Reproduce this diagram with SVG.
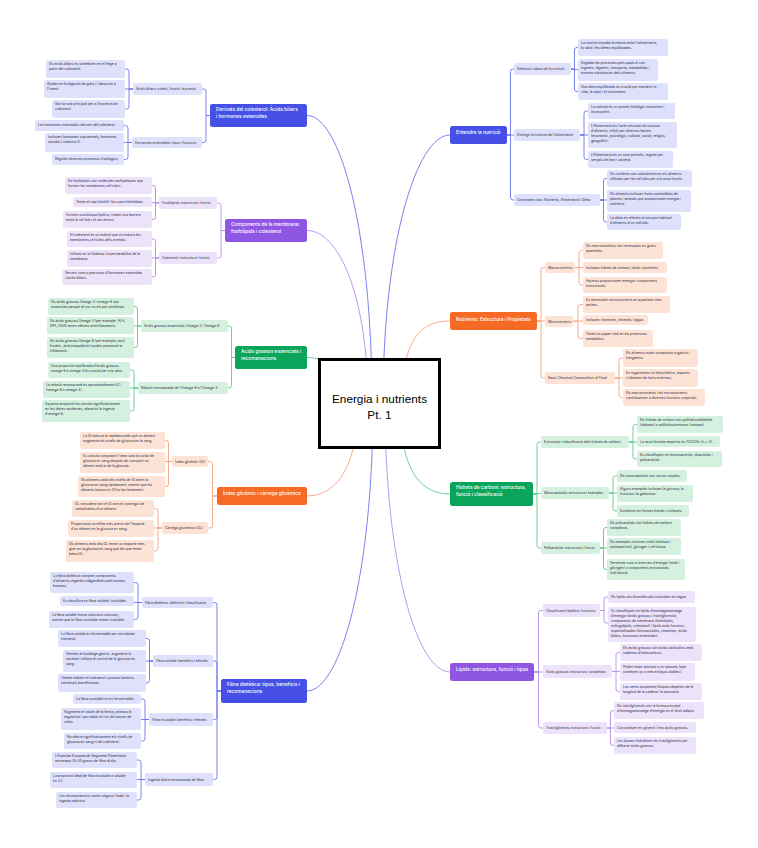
<svg xmlns="http://www.w3.org/2000/svg" width="758" height="848" viewBox="0 0 758 848">
<style>
.t{font-family:Inter,"Liberation Sans",sans-serif;font-size:3.4px;fill:#2a2a3a}
.s{font-family:Inter,"Liberation Sans",sans-serif;font-size:3.4px;fill:#2a2a3a}
.m{font-family:Inter,"Liberation Sans",sans-serif;font-size:4.8px;fill:#ffffff;font-weight:500}
.c{font-family:"Liberation Sans",Arial,sans-serif;font-size:11.8px;fill:#000;text-anchor:middle}
.lb{fill:#dfe0fb}.lp{fill:#ece3fb}.lg{fill:#d4f1e0}.lo{fill:#fde3d6}
.mb{fill:#4650e6}.mp{fill:#8e56e3}.mg{fill:#0aa55a}.mo{fill:#f56a24}
.cb,.cp,.cg,.co{fill:none;stroke-width:0.9}
.cb{stroke:#6c74ee}.cp{stroke:#b48cf0}.cg{stroke:#5ccb8f}.co{stroke:#f7a27c}
</style>
<rect width="758" height="848" fill="#ffffff"/>
<g id="connectors">
<path class="cb" d="M307 115.5C340 115.5 372 230 372 403"/>
<path class="cp" d="M307 230.5C340 230.5 368 300 368 403"/>
<path class="cg" d="M307 357.5C314 357.5 318 359 330 362"/>
<path class="co" d="M307 496C340 496 358 460 358 403"/>
<path class="cb" d="M307 691C340 691 373 576 373 403"/>
<path class="cb" d="M450 135C417 135 383 242 383 403"/>
<path class="co" d="M450 321C420 321 402 340 402 403"/>
<path class="cg" d="M450 494C420 494 400 470 400 403"/>
<path class="cp" d="M450 672C417 672 385 564 385 403"/>
<!-- main1 -->
<path class="cb" d="M210 115.5H206V91.5Q206 89 203.5 89H202"/>
<path class="cb" d="M210 115.5H206V140Q206 142.5 203.5 142.5H202"/>
<path class="cb" d="M133 89H129V71.5Q129 69 126.5 69H125"/>
<path class="cb" d="M133 89H125"/>
<path class="cb" d="M133 89H129V106.5Q129 109 126.5 109H125"/>
<path class="cb" d="M132 142.5H128V128Q128 125.5 125.5 125.5H124"/>
<path class="cb" d="M132 142.5H124"/>
<path class="cb" d="M132 142.5H128V157Q128 159.5 125.5 159.5H124"/>
<!-- main2 -->
<path class="cp" d="M225 230.5H221V205.5Q221 203 218.5 203H217"/>
<path class="cp" d="M225 230.5H221V255.5Q221 258 218.5 258H217"/>
<path class="cp" d="M159 203H155.5V188Q155.5 185.5 153 185.5H152"/>
<path class="cp" d="M159 202.5H152"/>
<path class="cp" d="M159 203H155.5V217Q155.5 219.5 153 219.5H152"/>
<path class="cp" d="M159 258H155.5V241.5Q155.5 239 153 239H152"/>
<path class="cp" d="M159 258H152"/>
<path class="cp" d="M159 258H155.5V274.5Q155.5 277 153 277H152"/>
<!-- main3 -->
<path class="cg" d="M235 357.5H231.5V328.5Q231.5 326 229 326H228"/>
<path class="cg" d="M235 357.5H231.5V385.5Q231.5 388 229 388H228"/>
<path class="cg" d="M141 326H137.5V309Q137.5 306.5 135 306.5H134"/>
<path class="cg" d="M141 326H134"/>
<path class="cg" d="M141 326H137.5V345Q137.5 347.5 135 347.5H134"/>
<path class="cg" d="M138 388H134V372.5Q134 370 131.5 370H130"/>
<path class="cg" d="M138 388H130"/>
<path class="cg" d="M138 388H134V408.5Q134 411 131.5 411H130"/>
<!-- main4 -->
<path class="co" d="M217 496H212.5V464Q212.5 461.5 210 461.5H208"/>
<path class="co" d="M217 496H212.5V525.5Q212.5 528 210 528H208"/>
<path class="co" d="M172 461.5H168.5V443Q168.5 440.5 166 440.5H165"/>
<path class="co" d="M172 461.5H165"/>
<path class="co" d="M172 461.5H168.5V484Q168.5 486.5 166 486.5H165"/>
<path class="co" d="M162 528H158V511Q158 508.5 155.5 508.5H154"/>
<path class="co" d="M162 528H154"/>
<path class="co" d="M162 528H158V548.5Q158 551 155.5 551H154"/>
<!-- main5 -->
<path class="cb" d="M221 691H217V605Q217 602.5 214.5 602.5H213"/>
<path class="cb" d="M221 691H217V663.5Q217 661 214.5 661H213"/>
<path class="cb" d="M221 691H217V717Q217 719.5 214.5 719.5H213"/>
<path class="cb" d="M221 691H217V777Q217 779.5 214.5 779.5H213"/>
<path class="cb" d="M142 602.5H138V585Q138 582.5 135.5 582.5H134"/>
<path class="cb" d="M142 602.5H134"/>
<path class="cb" d="M142 602.5H138V617Q138 619.5 135.5 619.5H134"/>
<path class="cb" d="M153 661H149.5V641Q149.5 638.5 147 638.5H146"/>
<path class="cb" d="M153 661H146"/>
<path class="cb" d="M153 661H149.5V680.5Q149.5 683 147 683H146"/>
<path class="cb" d="M149 719.5H145V701.5Q145 699 142.5 699H141"/>
<path class="cb" d="M149 719.5H141"/>
<path class="cb" d="M149 719.5H145V738.5Q145 741 142.5 741H141"/>
<path class="cb" d="M145 779.5H141V762.5Q141 760 138.5 760H137"/>
<path class="cb" d="M145 779.5H137"/>
<path class="cb" d="M145 779.5H141V797.5Q141 800 138.5 800H137"/>
<!-- main6 -->
<path class="cb" d="M507 135H510.5V71.5Q510.5 69 513 69H514"/>
<path class="cb" d="M507 135H514"/>
<path class="cb" d="M507 135H510.5V197.5Q510.5 200 513 200H514"/>
<path class="cb" d="M571 69H574.5V50Q574.5 47.5 577 47.5H578"/>
<path class="cb" d="M571 69.5H578"/>
<path class="cb" d="M571 69H574.5V89Q574.5 91.5 577 91.5H578"/>
<path class="cb" d="M580 135H584V113.5Q584 111 586.5 111H588"/>
<path class="cb" d="M580 135H588"/>
<path class="cb" d="M580 135H584V157Q584 159.5 586.5 159.5H588"/>
<path class="cb" d="M600 200H603.5V181Q603.5 178.5 606 178.5H607"/>
<path class="cb" d="M600 200H607"/>
<path class="cb" d="M600 200H603.5V219.5Q603.5 222 606 222H607"/>
<!-- main7 -->
<path class="co" d="M537 321H541V270Q541 267.5 543.5 267.5H545"/>
<path class="co" d="M537 321H545"/>
<path class="co" d="M537 321H541V375.5Q541 378 543.5 378H545"/>
<path class="co" d="M575 267.5H579V253Q579 250.5 581.5 250.5H583"/>
<path class="co" d="M575 267.5H583"/>
<path class="co" d="M575 267.5H579V282.5Q579 285 581.5 285H583"/>
<path class="co" d="M573 321.5H578V307Q578 304.5 580.5 304.5H583"/>
<path class="co" d="M573 321H583"/>
<path class="co" d="M573 321.5H578V336Q578 338.5 580.5 338.5H583"/>
<path class="co" d="M615 378H619V360.5Q619 358 621.5 358H623"/>
<path class="co" d="M615 378H623"/>
<path class="co" d="M615 378H619V395Q619 397.5 621.5 397.5H623"/>
<!-- main8 -->
<path class="cg" d="M533 494H537V444.5Q537 442 539.5 442H541"/>
<path class="cg" d="M533 493.5H541"/>
<path class="cg" d="M533 494H537V545.5Q537 548 539.5 548H541"/>
<path class="cg" d="M629 442H633V427Q633 424.5 635.5 424.5H637"/>
<path class="cg" d="M629 442H637"/>
<path class="cg" d="M629 442H633V456.5Q633 459 635.5 459H637"/>
<path class="cg" d="M609 493H613V478.5Q613 476 615.5 476H617"/>
<path class="cg" d="M609 493H617"/>
<path class="cg" d="M609 493H613V508.5Q613 511 615.5 511H617"/>
<path class="cg" d="M600 548H603.5V530Q603.5 527.5 606 527.5H607"/>
<path class="cg" d="M600 548H607"/>
<path class="cg" d="M600 548H603.5V567Q603.5 569.5 606 569.5H607"/>
<!-- main9 -->
<path class="cp" d="M534 672H538.5V613Q538.5 610.5 541 610.5H543"/>
<path class="cp" d="M534 672H543"/>
<path class="cp" d="M534 672H538.5V725.5Q538.5 728 541 728H543"/>
<path class="cp" d="M600 610.5H604V599.5Q604 597 606.5 597H608"/>
<path class="cp" d="M600 610.5H604V620.5Q604 623 606.5 623H608"/>
<path class="cp" d="M612 671.5H616V655Q616 652.5 618.5 652.5H620"/>
<path class="cp" d="M612 671.5H620"/>
<path class="cp" d="M612 671.5H616V689Q616 691.5 618.5 691.5H620"/>
<path class="cp" d="M607 728H610.5V713Q610.5 710.5 613 710.5H614"/>
<path class="cp" d="M607 728H614"/>
<path class="cp" d="M607 728H610.5V743Q610.5 745.5 613 745.5H614"/>
</g>

<g id="center">
<rect x="319.5" y="359.5" width="120" height="88" fill="#ffffff" stroke="#000" stroke-width="3"/>
<text class="c" x="379.5" y="403">Energia i nutrients</text>
<text class="c" x="379.5" y="419">Pt. 1</text>
</g>

<!-- MAIN 1 -->
<g id="n1">
<rect class="mb" x="210" y="104" width="97" height="23" rx="2.5"/>
<text class="m" x="216" y="111.3">Derivats del colesterol: Àcids biliars<tspan x="216" dy="6.7">i hormones esteroides</tspan></text>
</g>
<g id="n1a"><rect class="lb" x="133" y="83" width="69" height="12" rx="2"/><text class="s" x="136" y="90.2">Àcids biliars: síntesi, funció i excreció</text></g>
<g id="n1b"><rect class="lb" x="132" y="137" width="70" height="11" rx="2"/><text class="s" x="135" y="143.7">Hormones esteroidals: tipus i funcions</text></g>
<g id="n1a1"><rect class="lb" x="46" y="60" width="79" height="18" rx="2"/><text class="t" x="49" y="65.2">Els àcids biliars es sintetitzen en el fetge a<tspan x="49" dy="5">partir del colesterol.</tspan></text></g>
<g id="n1a2"><rect class="lb" x="44" y="80" width="81" height="18" rx="2"/><text class="t" x="47" y="85.2">Ajuden en la digestió de greix i l'absorció a<tspan x="47" dy="5">l'intestí.</tspan></text></g>
<g id="n1a3"><rect class="lb" x="52" y="100" width="73" height="18" rx="2"/><text class="t" x="55" y="105.2">Són la ruta principal per a l'excreció de<tspan x="55" dy="5">colesterol.</tspan></text></g>
<g id="n1b1"><rect class="lb" x="35" y="120" width="89" height="11" rx="2"/><text class="t" x="38" y="126">Les hormones esteroidals deriven del colesterol.</text></g>
<g id="n1b2"><rect class="lb" x="45" y="133" width="79" height="19" rx="2"/><text class="t" x="48" y="138.2">Inclouen hormones suprarenals, hormones<tspan x="48" dy="5">sexuals i vitamina D.</tspan></text></g>
<g id="n1b3"><rect class="lb" x="52" y="154" width="72" height="11" rx="2"/><text class="t" x="55" y="160">Regulen diversos processos fisiològics.</text></g>

<!-- MAIN 2 -->
<g id="n2">
<rect class="mp" x="225" y="219" width="82" height="23" rx="2.5"/>
<text class="m" x="231" y="226.3">Components de la membrana:<tspan x="231" dy="6.7">fosfolípids i colesterol</tspan></text>
</g>
<g id="n2a"><rect class="lp" x="159" y="197" width="58" height="12" rx="2"/><text class="s" x="162" y="204.2">Fosfolípids: estructura i funció</text></g>
<g id="n2b"><rect class="lp" x="159" y="252" width="58" height="12" rx="2"/><text class="s" x="162" y="259.2">Colesterol: estructura i funció</text></g>
<g id="n2a1"><rect class="lp" x="65" y="177" width="87" height="17" rx="2"/><text class="t" x="68" y="182.2">Els fosfolípids són molècules amfipàtiques que<tspan x="68" dy="5">formen les membranes cel·lulars.</tspan></text></g>
<g id="n2a2"><rect class="lp" x="73" y="197" width="79" height="10" rx="2"/><text class="t" x="76" y="203">Tenen el cap hidròfil i les cues hidròfobes.</text></g>
<g id="n2a3"><rect class="lp" x="63" y="211" width="89" height="17" rx="2"/><text class="t" x="66" y="216.2">Formen una bicapa lipídica, creant una barrera<tspan x="66" dy="5">entre la cèl·lula i el seu entorn.</tspan></text></g>
<g id="n2b1"><rect class="lp" x="67" y="231" width="85" height="16" rx="2"/><text class="t" x="70" y="236.2">El colesterol és un esterol que es troba a les<tspan x="70" dy="5">membranes cel·lulars dels animals.</tspan></text></g>
<g id="n2b2"><rect class="lp" x="67" y="250" width="85" height="17" rx="2"/><text class="t" x="70" y="255.2">Influeix en la fluïdesa i la permeabilitat de la<tspan x="70" dy="5">membrana.</tspan></text></g>
<g id="n2b3"><rect class="lp" x="62" y="269" width="90" height="16" rx="2"/><text class="t" x="65" y="274.2">Serveix com a precursor d'hormones esteroides<tspan x="65" dy="5">i àcids biliars.</tspan></text></g>

<!-- MAIN 3 -->
<g id="n3">
<rect class="mg" x="235" y="346" width="72" height="23" rx="2.5"/>
<text class="m" x="241" y="353.3">Àcids grassos essencials i<tspan x="241" dy="6.7">recomanacions</tspan></text>
</g>
<g id="n3a"><rect class="lg" x="141" y="320" width="87" height="12" rx="2"/><text class="s" x="144" y="327.2">Àcids grassos essencials: Omega-3 i Omega-6</text></g>
<g id="n3b"><rect class="lg" x="138" y="382" width="90" height="12" rx="2"/><text class="s" x="141" y="389.2">Relació recomanada de l'Omega-6 a l'Omega-3</text></g>
<g id="n3a1"><rect class="lg" x="48" y="298" width="86" height="17" rx="2"/><text class="t" x="51" y="303.2">Els àcids grassos Omega-3 i omega-6 són<tspan x="51" dy="5">essencials perquè el cos no els pot sintetitzar.</tspan></text></g>
<g id="n3a2"><rect class="lg" x="47" y="317" width="87" height="17" rx="2"/><text class="t" x="50" y="322.2">Els àcids grassos Omega-3 (per exemple, ALA,<tspan x="50" dy="5">EPA, DHA) tenen efectes antiinflamatoris.</tspan></text></g>
<g id="n3a3"><rect class="lg" x="47" y="337" width="87" height="21" rx="2"/><text class="t" x="50" y="342.2">Els àcids grassos Omega-6 (per exemple, àcid<tspan x="50" dy="5">linoleic, àcid araquidònic) poden promoure la</tspan><tspan x="50" dy="5">inflamació.</tspan></text></g>
<g id="n3b1"><rect class="lg" x="48" y="362" width="82" height="16" rx="2"/><text class="t" x="51" y="367.2">Una proporció equilibrada d'àcids grassos<tspan x="51" dy="5">omega-6 a omega-3 és crucial per a la salut.</tspan></text></g>
<g id="n3b2"><rect class="lg" x="43" y="381" width="87" height="17" rx="2"/><text class="t" x="46" y="386.2">La relació recomanada és aproximadament 4:1<tspan x="46" dy="5">(omega-6 a omega-3).</tspan></text></g>
<g id="n3b3"><rect class="lg" x="42" y="400" width="88" height="22" rx="2"/><text class="t" x="45" y="405.2">Aquesta proporció ha canviat significativament<tspan x="45" dy="5">en les dietes modernes, afavorint la ingesta</tspan><tspan x="45" dy="5">d'omega-6.</tspan></text></g>

<!-- MAIN 4 -->
<g id="n4">
<rect class="mo" x="217" y="487" width="90" height="18" rx="2.5"/>
<text class="m" x="223" y="494.5">Índex glicèmic i càrrega glicèmica</text>
</g>
<g id="n4a"><rect class="lo" x="172" y="456" width="36" height="11" rx="2"/><text class="s" x="175" y="462.7">Índex glicèmic (IG)</text></g>
<g id="n4b"><rect class="lo" x="162" y="522" width="46" height="12" rx="2"/><text class="s" x="165" y="529.2">Càrrega glucèmica (GL)</text></g>
<g id="n4a1"><rect class="lo" x="80" y="432" width="85" height="17" rx="2"/><text class="t" x="83" y="437.2">La IG mesura la rapidesa amb què un aliment<tspan x="83" dy="5">augmenta els nivells de glucosa en la sang.</tspan></text></g>
<g id="n4a2"><rect class="lo" x="80" y="452" width="85" height="21" rx="2"/><text class="t" x="83" y="457.2">Es calcula comparant l'àrea sota la corba de<tspan x="83" dy="5">glucosa en sang després de consumir un</tspan><tspan x="83" dy="5">aliment amb la de la glucosa.</tspan></text></g>
<g id="n4a3"><rect class="lo" x="78" y="476" width="87" height="21" rx="2"/><text class="t" x="81" y="481.2">Els aliments amb alts nivells de GI alcen la<tspan x="81" dy="5">glucosa en sang ràpidament, mentre que els</tspan><tspan x="81" dy="5">aliments baixos en GI ho fan lentament.</tspan></text></g>
<g id="n4b1"><rect class="lo" x="72" y="500" width="82" height="17" rx="2"/><text class="t" x="75" y="505.2">GL considera tant el GI com el contingut de<tspan x="75" dy="5">carbohidrats d'un aliment.</tspan></text></g>
<g id="n4b2"><rect class="lo" x="68" y="520" width="86" height="17" rx="2"/><text class="t" x="71" y="525.2">Proporciona un reflex més precís de l'impacte<tspan x="71" dy="5">d'un aliment en la glucosa en sang.</tspan></text></g>
<g id="n4b3"><rect class="lo" x="66" y="540" width="88" height="22" rx="2"/><text class="t" x="69" y="545.2">Els aliments amb alta GL tenen un impacte més<tspan x="69" dy="5">gran en la glucosa en sang que els que tenen</tspan><tspan x="69" dy="5">baixa GL.</tspan></text></g>

<!-- MAIN 5 -->
<g id="n5">
<rect class="mb" x="221" y="679" width="86" height="24" rx="2.5"/>
<text class="m" x="227" y="686.3">Fibra dietètica: tipus, beneficis i<tspan x="227" dy="6.7">recomanacions</tspan></text>
</g>
<g id="n5a"><rect class="lb" x="142" y="597" width="71" height="11" rx="2"/><text class="s" x="145" y="603.7">Fibra dietètica: definició i classificació</text></g>
<g id="n5b"><rect class="lb" x="153" y="655" width="60" height="12" rx="2"/><text class="s" x="156" y="662.2">Fibra soluble: beneficis i efectes</text></g>
<g id="n5c"><rect class="lb" x="149" y="713" width="64" height="13" rx="2"/><text class="s" x="152" y="720.7">Fibra insoluble: beneficis i efectes</text></g>
<g id="n5d"><rect class="lb" x="145" y="773" width="68" height="13" rx="2"/><text class="s" x="148" y="780.7">Ingesta diària recomanada de fibra</text></g>
<g id="n5a1"><rect class="lb" x="50" y="572" width="84" height="21" rx="2"/><text class="t" x="53" y="577.2">La fibra dietètica comprèn components<tspan x="53" dy="5">d'aliments vegetals indigestibles pels enzims</tspan><tspan x="53" dy="5">humans.</tspan></text></g>
<g id="n5a2"><rect class="lb" x="60" y="596" width="74" height="10" rx="2"/><text class="t" x="63" y="602">Es classifica en fibra soluble i insoluble.</text></g>
<g id="n5a3"><rect class="lb" x="49" y="611" width="85" height="17" rx="2"/><text class="t" x="52" y="616.2">La fibra soluble forma solucions viscoses,<tspan x="52" dy="5">mentre que la fibra insoluble roman insoluble.</tspan></text></g>
<g id="n5b1"><rect class="lb" x="58" y="630" width="88" height="17" rx="2"/><text class="t" x="61" y="635.2">La fibra soluble és fermentable per microbiota<tspan x="61" dy="5">intestinal.</tspan></text></g>
<g id="n5b2"><rect class="lb" x="63" y="650" width="83" height="22" rx="2"/><text class="t" x="66" y="655.2">Alenteix el buidatge gàstric, augmenta la<tspan x="66" dy="5">sacietat i millora el control de la glucosa en</tspan><tspan x="66" dy="5">sang.</tspan></text></g>
<g id="n5b3"><rect class="lb" x="58" y="674" width="88" height="18" rx="2"/><text class="t" x="61" y="679.2">També redueix el colesterol i promou bacteris<tspan x="61" dy="5">intestinals beneficiosos.</tspan></text></g>
<g id="n5c1"><rect class="lb" x="73" y="694" width="68" height="10" rx="2"/><text class="t" x="76" y="700">La fibra insoluble no és fermentable.</text></g>
<g id="n5c2"><rect class="lb" x="61" y="708" width="80" height="22" rx="2"/><text class="t" x="64" y="713.2">Augmenta el volum de la femta, promou la<tspan x="64" dy="5">regularitat i pot reduir el risc de càncer de</tspan><tspan x="64" dy="5">còlon.</tspan></text></g>
<g id="n5c3"><rect class="lb" x="64" y="733" width="77" height="16" rx="2"/><text class="t" x="67" y="738.2">No afecta significativament els nivells de<tspan x="67" dy="5">glucosa en sang ni de colesterol.</tspan></text></g>
<g id="n5d1"><rect class="lb" x="52" y="752" width="85" height="16" rx="2"/><text class="t" x="55" y="757.2">L'Autoritat Europea de Seguretat Alimentària<tspan x="55" dy="5">recomana 25-35 grams de fibra al dia.</tspan></text></g>
<g id="n5d2"><rect class="lb" x="50" y="772" width="87" height="16" rx="2"/><text class="t" x="53" y="777.2">La proporció ideal de fibra insoluble a soluble<tspan x="53" dy="5">és 3:1.</tspan></text></g>
<g id="n5d3"><rect class="lb" x="56" y="792" width="81" height="16" rx="2"/><text class="t" x="59" y="797.2">Les recomanacions varien segons l'edat i la<tspan x="59" dy="5">ingesta calòrica.</tspan></text></g>

<!-- MAIN 6 -->
<g id="n6">
<rect class="mb" x="450" y="126" width="57" height="18" rx="2.5"/>
<text class="m" x="456" y="134.3">Entendre la nutrició</text>
</g>
<g id="n6a"><rect class="lb" x="514" y="63" width="57" height="12" rx="2"/><text class="s" x="517" y="70.2">Definició i abast de la nutrició</text></g>
<g id="n6b"><rect class="lb" x="514" y="129" width="66" height="12" rx="2"/><text class="s" x="517" y="136.2">Distingir la nutrició de l'alimentació</text></g>
<g id="n6c"><rect class="lb" x="514" y="194" width="86" height="12" rx="2"/><text class="s" x="517" y="201.2">Conceptes clau: Nutrients, Alimentació i Dieta</text></g>
<g id="n6a1"><rect class="lb" x="578" y="39" width="90" height="17" rx="2"/><text class="t" x="581" y="44.2">La nutrició estudia la relació entre l'alimentació,<tspan x="581" dy="5">la salut i les dietes equilibrades.</tspan></text></g>
<g id="n6a2"><rect class="lb" x="578" y="59" width="80" height="22" rx="2"/><text class="t" x="581" y="64.2">Engloba els processos pels quals el cos<tspan x="581" dy="5">ingereix, digereix, transporta, metabolitza i</tspan><tspan x="581" dy="5">excreta substàncies dels aliments.</tspan></text></g>
<g id="n6a3"><rect class="lb" x="578" y="83" width="90" height="17" rx="2"/><text class="t" x="581" y="88.2">Una dieta equilibrada és crucial per mantenir la<tspan x="581" dy="5">vida, la salut i el creixement.</tspan></text></g>
<g id="n6b1"><rect class="lb" x="588" y="103" width="87" height="16" rx="2"/><text class="t" x="591" y="108.2">La nutrició és un procés fisiològic involuntari i<tspan x="591" dy="5">inconscient.</tspan></text></g>
<g id="n6b2"><rect class="lb" x="588" y="122" width="89" height="26" rx="2"/><text class="t" x="591" y="127.2">L'Alimentació és l'acte voluntari de consum<tspan x="591" dy="5">d'aliments, influït per diversos factors</tspan><tspan x="591" dy="5">(econòmic, psicològic, cultural, social, religiós,</tspan><tspan x="591" dy="5">geogràfic).</tspan></text></g>
<g id="n6b3"><rect class="lb" x="588" y="151" width="85" height="17" rx="2"/><text class="t" x="591" y="156.2">L'Alimentació és un acte periòdic, regulat per<tspan x="591" dy="5">senyals de fam i sacietat.</tspan></text></g>
<g id="n6c1"><rect class="lb" x="607" y="170" width="85" height="17" rx="2"/><text class="t" x="610" y="175.2">Els nutrients són substàncies en els aliments<tspan x="610" dy="5">utilitzats per les cèl·lules per a la seva funció.</tspan></text></g>
<g id="n6c2"><rect class="lb" x="607" y="190" width="84" height="22" rx="2"/><text class="t" x="610" y="195.2">Els aliments inclouen fonts comestibles de<tspan x="610" dy="5">plantes i animals que proporcionen energia i</tspan><tspan x="610" dy="5">nutrients.</tspan></text></g>
<g id="n6c3"><rect class="lb" x="607" y="214" width="74" height="16" rx="2"/><text class="t" x="610" y="219.2">La dieta es refereix al consum habitual<tspan x="610" dy="5">d'aliments d'un individu.</tspan></text></g>

<!-- MAIN 7 -->
<g id="n7">
<rect class="mo" x="450" y="312" width="87" height="18" rx="2.5"/>
<text class="m" x="456" y="320.5">Nutrients: Estructura i Propietats</text>
</g>
<g id="n7a"><rect class="lo" x="545" y="262" width="30" height="11" rx="2"/><text class="s" x="548" y="268.7">Macronutrients</text></g>
<g id="n7b"><rect class="lo" x="545" y="316" width="28" height="11" rx="2"/><text class="s" x="548" y="322.7">Micronutrients</text></g>
<g id="n7c"><rect class="lo" x="545" y="372" width="70" height="12" rx="2"/><text class="s" x="548" y="379.2">Basic Chemical Composition of Food</text></g>
<g id="n7a1"><rect class="lo" x="583" y="242" width="80" height="17" rx="2"/><text class="t" x="586" y="247.2">Els macronutrients són necessaris en grans<tspan x="586" dy="5">quantitats.</tspan></text></g>
<g id="n7a2"><rect class="lo" x="583" y="262" width="84" height="11" rx="2"/><text class="t" x="586" y="268.5">Inclouen hidrats de carboni, lípids i proteïnes.</text></g>
<g id="n7a3"><rect class="lo" x="583" y="277" width="84" height="16" rx="2"/><text class="t" x="586" y="282.2">Aquests proporcionen energia i components<tspan x="586" dy="5">estructurals.</tspan></text></g>
<g id="n7b1"><rect class="lo" x="583" y="296" width="87" height="17" rx="2"/><text class="t" x="586" y="301.2">Es necessiten micronutrients en quantitats més<tspan x="586" dy="5">petites.</tspan></text></g>
<g id="n7b2"><rect class="lo" x="583" y="315" width="65" height="10" rx="2"/><text class="t" x="586" y="321">Inclouen vitamines, minerals i aigua.</text></g>
<g id="n7b3"><rect class="lo" x="583" y="330" width="70" height="17" rx="2"/><text class="t" x="586" y="335.2">Tenen un paper vital en els processos<tspan x="586" dy="5">metabòlics.</tspan></text></g>
<g id="n7c1"><rect class="lo" x="623" y="349" width="75" height="18" rx="2"/><text class="t" x="626" y="354.2">Els aliments estan compostos orgànics i<tspan x="626" dy="5">inorgànics.</tspan></text></g>
<g id="n7c2"><rect class="lo" x="623" y="369" width="75" height="18" rx="2"/><text class="t" x="626" y="374.2">En organismes no fotosintètics, aquests<tspan x="626" dy="5">s'obtenen de fonts externes.</tspan></text></g>
<g id="n7c3"><rect class="lo" x="623" y="389" width="82" height="17" rx="2"/><text class="t" x="626" y="394.2">Els macronutrients i els micronutrients<tspan x="626" dy="5">contribueixen a diverses funcions corporals.</tspan></text></g>

<!-- MAIN 8 -->
<g id="n8">
<rect class="mg" x="450" y="482" width="83" height="24" rx="2.5"/>
<text class="m" x="456" y="489.3">Hidrats de carboni: estructura,<tspan x="456" dy="6.7">funció i classificació</tspan></text>
</g>
<g id="n8a"><rect class="lg" x="541" y="436" width="88" height="12" rx="2"/><text class="s" x="544" y="443.2">Estructura i classificació dels hidrats de carboni</text></g>
<g id="n8b"><rect class="lg" x="541" y="487" width="68" height="12" rx="2"/><text class="s" x="544" y="494.2">Monosacàrids: estructura i exemples</text></g>
<g id="n8c"><rect class="lg" x="541" y="542" width="59" height="12" rx="2"/><text class="s" x="544" y="549.2">Polisacàrids: estructura i funció</text></g>
<g id="n8a1"><rect class="lg" x="637" y="416" width="86" height="17" rx="2"/><text class="t" x="640" y="421.2">Els hidrats de carboni són polihidroxialdehids<tspan x="640" dy="5">(aldoses) o polihidroxicetones (cetoses).</tspan></text></g>
<g id="n8a2"><rect class="lg" x="637" y="436" width="83" height="11" rx="2"/><text class="t" x="640" y="442.5">La seva fórmula empírica és (CH2O)n (n ≥ 3).</text></g>
<g id="n8a3"><rect class="lg" x="637" y="451" width="85" height="16" rx="2"/><text class="t" x="640" y="456.2">Es classifiquen en monosacàrids, disacàrids i<tspan x="640" dy="5">polisacàrids.</tspan></text></g>
<g id="n8b1"><rect class="lg" x="617" y="470" width="70" height="12" rx="2"/><text class="t" x="620" y="476.5">Els monosacàrids són sucres simples.</text></g>
<g id="n8b2"><rect class="lg" x="617" y="485" width="76" height="17" rx="2"/><text class="t" x="620" y="490.2">Alguns exemples inclouen la glucosa, la<tspan x="620" dy="5">fructosa i la galactosa.</tspan></text></g>
<g id="n8b3"><rect class="lg" x="617" y="505" width="72" height="12" rx="2"/><text class="t" x="620" y="511.5">Existeixen en formes lineals i cícliques.</text></g>
<g id="n8c1"><rect class="lg" x="607" y="519" width="74" height="17" rx="2"/><text class="t" x="610" y="524.2">Els polisacàrids són hidrats de carboni<tspan x="610" dy="5">complexos.</tspan></text></g>
<g id="n8c2"><rect class="lg" x="607" y="538" width="74" height="17" rx="2"/><text class="t" x="610" y="543.2">Els exemples inclouen midó (amilosa i<tspan x="610" dy="5">amilopectina), glicogen i cel·lulosa.</tspan></text></g>
<g id="n8c3"><rect class="lg" x="607" y="559" width="78" height="21" rx="2"/><text class="t" x="610" y="564.2">Serveixen com a reserves d'energia (midó i<tspan x="610" dy="5">glicogen) o components estructurals</tspan><tspan x="610" dy="5">(cel·lulosa).</tspan></text></g>

<!-- MAIN 9 -->
<g id="n9">
<rect class="mp" x="450" y="663" width="84" height="18" rx="2.5"/>
<text class="m" x="456" y="671.3">Lípids: estructura, funció i tipus</text>
</g>
<g id="n9a"><rect class="lp" x="543" y="604" width="57" height="13" rx="2"/><text class="s" x="546" y="611.7">Classificació lipídica i funcions</text></g>
<g id="n9b"><rect class="lp" x="543" y="665" width="69" height="13" rx="2"/><text class="s" x="546" y="672.7">Àcids grassos: estructura i propietats</text></g>
<g id="n9c"><rect class="lp" x="543" y="722" width="64" height="12" rx="2"/><text class="s" x="546" y="729.2">Triacilglicerols: estructura i funció</text></g>
<g id="n9a1"><rect class="lp" x="608" y="591" width="87" height="12" rx="2"/><text class="t" x="611" y="597.5">Els lípids són biomolècules insolubles en aigua.</text></g>
<g id="n9a2"><rect class="lp" x="608" y="607" width="88" height="35" rx="2"/><text class="t" x="611" y="612.2">Es classifiquen en lípids d'emmagatzematge<tspan x="611" dy="5">d'energia (àcids grassos i triacilglicerols),</tspan><tspan x="611" dy="5">components de membrana (fosfolípids,</tspan><tspan x="611" dy="5">esfingolípids, colesterol) i lípids amb funcions</tspan><tspan x="611" dy="5">especialitzades (eicosanoides, vitamines, àcids</tspan><tspan x="611" dy="5">biliars, hormones esteroides).</tspan></text></g>
<g id="n9b1"><rect class="lp" x="620" y="644" width="82" height="17" rx="2"/><text class="t" x="623" y="649.2">Els àcids grassos són àcids carboxílics amb<tspan x="623" dy="5">cadenes d'hidrocarburs.</tspan></text></g>
<g id="n9b2"><rect class="lp" x="620" y="663" width="75" height="18" rx="2"/><text class="t" x="623" y="668.2">Poden estar saturats o no saturats (que<tspan x="623" dy="5">contenen un o més enllaços dobles).</tspan></text></g>
<g id="n9b3"><rect class="lp" x="620" y="683" width="82" height="17" rx="2"/><text class="t" x="623" y="688.2">Les seves propietats físiques depenen de la<tspan x="623" dy="5">longitud de la cadena i la saturació.</tspan></text></g>
<g id="n9c1"><rect class="lp" x="614" y="702" width="90" height="17" rx="2"/><text class="t" x="617" y="707.2">Els triacilglicerols són la forma principal<tspan x="617" dy="5">d'emmagatzematge d'energia en el teixit adipós.</tspan></text></g>
<g id="n9c2"><rect class="lp" x="614" y="722" width="82" height="11" rx="2"/><text class="t" x="617" y="728.5">Consisteixen en glicerol i tres àcids grassos.</text></g>
<g id="n9c3"><rect class="lp" x="614" y="737" width="82" height="17" rx="2"/><text class="t" x="617" y="742.2">Les lipases hidrolitzen els triacilglicerols per<tspan x="617" dy="5">alliberar àcids grassos.</tspan></text></g>
</svg>
